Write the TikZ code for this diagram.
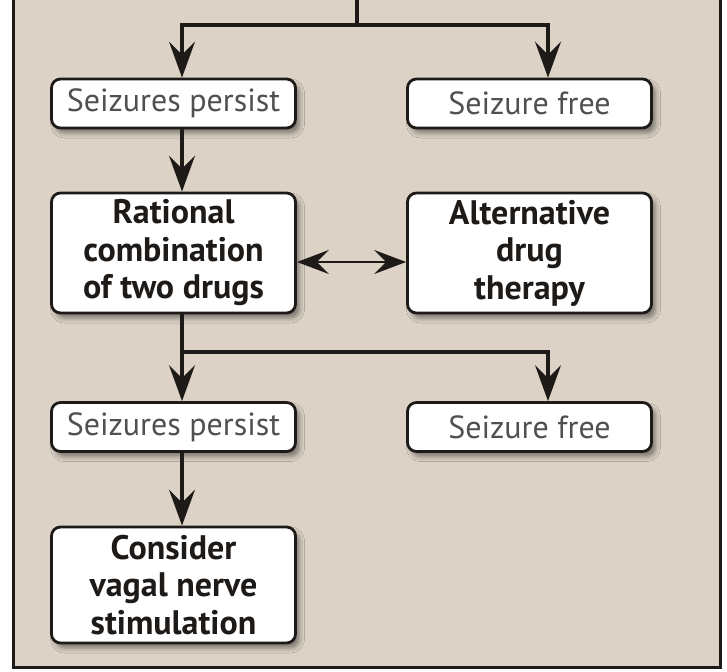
\documentclass[tikz,border=0pt]{standalone}
\usepackage{fontspec}
\setmainfont{PT Sans}
\usetikzlibrary{arrows.meta,shadows.blur,calc}
\definecolor{bgtan}{RGB}{220,211,198}
\definecolor{ink}{RGB}{30,26,24}
\definecolor{lighttext}{RGB}{80,80,80}
\begin{document}
\begin{tikzpicture}[x=1pt,y=-1pt,
 box/.style={draw=ink, line width=2.8pt, rounded corners=9pt, fill=white,
   blur shadow={shadow xshift=4pt, shadow yshift=-5pt, shadow blur radius=5pt, shadow opacity=45},
   minimum width=244pt, inner sep=0pt, align=center},
 smallbox/.style={box, minimum height=49pt, font=\fontsize{32}{34}\selectfont, text=lighttext},
 bigbox/.style={box, minimum height=120pt, font=\fontsize{34}{37.5}\selectfont\bfseries, text=ink},
 conn/.style={draw=ink, line width=3.4pt},
 arr/.style={conn, -{Stealth[length=36pt,width=26pt,inset=13pt]}},
 darr/.style={conn, line width=2.6pt, {Stealth[length=32pt,width=24pt,inset=12pt]}-{Stealth[length=32pt,width=24pt,inset=12pt]}}
]
\useasboundingbox (0,0) rectangle (727,671);
\fill[white] (0,0) rectangle (727,671);
\fill[bgtan] (13,-3) rectangle (720,667);
\draw[ink, line width=3pt] (13,-3) -- (13,667) -- (720,667) -- (720,-3);

\node[smallbox] (sp1) at (173.5,103.5) {Seizures persist};
\node[smallbox] (sf1) at (529.5,103.5) {Seizure free};
\node[bigbox] (rat) at (173.5,253) {Rational\\combination\\of two drugs};
\node[bigbox] (alt) at (529.5,253) {Alternative\\drug\\therapy};
\node[smallbox] (sp2) at (173.5,427) {Seizures persist};
\node[smallbox] (sf2) at (529.5,427) {Seizure free};
\node[bigbox, minimum height=116pt] (con) at (173.5,585) {Consider\\vagal nerve\\stimulation};

\coordinate (top) at (357,-3);
\coordinate (split1) at (357,25);
\coordinate (colL) at (182,0);
\coordinate (colR) at (548,0);
\coordinate (split2) at (182,352);

\draw[conn] (top) -- (split1);
\draw[arr] (split1) -| (sp1.north -| colL);
\draw[arr] (split1) -| (sf1.north -| colR);
\draw[arr] (sp1.south -| colL) -- (rat.north -| colL);
\draw[darr] ($(rat.east)+(0,9)$) -- ($(alt.west)+(0,9)$);
\draw[conn] (rat.south -| colL) -- (split2);
\draw[arr] (split2) -- (sp2.north -| colL);
\draw[arr] (split2) -| (sf2.north -| colR);
\draw[arr] (sp2.south -| colL) -- (con.north -| colL);
\end{tikzpicture}
\end{document}
